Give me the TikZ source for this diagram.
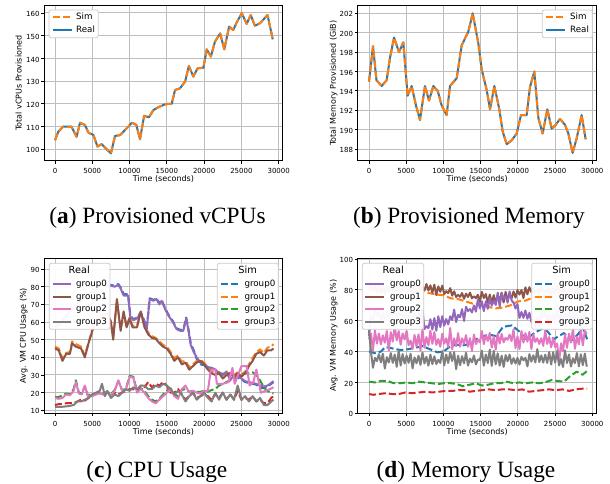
\documentclass[tikz,border=0pt]{standalone}
\usepackage{fontspec}
\setmainfont{DejaVu Sans}
\newfontfamily\capfont{Liberation Serif}
\definecolor{cblue}{HTML}{1F77B4}
\definecolor{corange}{HTML}{FF7F0E}
\definecolor{cgreen}{HTML}{2CA02C}
\definecolor{cred}{HTML}{D62728}
\definecolor{cpurple}{HTML}{9467BD}
\definecolor{cbrown}{HTML}{8C564B}
\definecolor{cpink}{HTML}{E377C2}
\definecolor{cgray}{HTML}{7F7F7F}
\definecolor{gridgray}{HTML}{BDBDBD}
\definecolor{legedge}{HTML}{CCCCCC}
\tikzset{
  realline/.style={line width=2pt, line join=round},
  simline/.style={line width=2pt, dash pattern=on 7pt off 3pt, line join=round},
  gridline/.style={gridgray, line width=1pt},
  spine/.style={black, line width=0.8pt},
  tickmark/.style={black, line width=0.8pt},
  ticklabel/.style={font=\fontsize{7}{8}\selectfont, inner sep=0pt, text height=0.73em, text depth=0pt},
  axislabel/.style={font=\fontsize{8}{9.6}\selectfont, inner sep=0pt, text height=0.76em, text depth=0.24em},
  legendbox/.style={draw=legedge, line width=0.8pt, fill=white, fill opacity=0.95, rounded corners=2pt},
  legendtext/.style={font=\fontsize{8.7}{10}\selectfont, inner sep=0pt, anchor=west, text height=0.73em, text depth=0.24em},
  legendtitle/.style={font=\fontsize{9.8}{11}\selectfont, inner sep=0pt, text height=0.73em, text depth=0.24em},
  subcaption/.style={font=\capfont\fontsize{23.3}{28}\selectfont, inner sep=0pt, anchor=base},
}
\begin{document}
\begin{tikzpicture}[x=1pt,y=1pt,
  declare function={
    bpink(\t)=48-4*max(0,1-abs(\t-13.8)/1.5)-9*max(0,1-abs(\t-25.4)/1.0)+6*max(0,1-abs(\t-29.3)/1.2);
    bpurple(\t)=(\t<7.2) ? 64 : ((\t<18.8) ? 55+(\t-7.2)*1.85 : ((\t<20.6) ? 76.5-(\t-18.8)*8.5 : 62));
    bbrown(\t)=(\t<8) ? 80.5 : ((\t<14) ? 81-(\t-8) : ((\t<18) ? 74.5 : min(79.5,74.5+(\t-18)*1.6)));
    wig(\k)=(2*mod(\k,2)-1)*(0.25+0.6*rnd)+0.45*rand;
  }]
\useasboundingbox (0,0) rectangle (610,483);
\fill[white] (0,0) rectangle (610,483);

% ---------------- (a) total vCPUs ----------------
\begin{scope}[shift={(55pt,106.5pt)},x=7.457pt,y=2.272pt]
  \foreach \t in {0,5,...,30} \draw[gridline] (\t,95) -- (\t,163.2);
  \foreach \v in {100,110,...,160} \draw[gridline] (-1.435,\v) -- (30.535,\v);
  \draw[realline,cblue] plot coordinates {(0,104) (0.45,107.8) (1.1,110) (2.2,110) (2.9,105.5) (3.35,111.7) (4,110.7) (4.5,107.3) (5.15,106.3) (5.7,101.2) (6.25,102.3) (6.9,100.1) (7.5,98.2) (8.05,105.9) (8.7,106.2) (9.4,108.5) (9.85,110) (10.3,111.7) (10.9,110.8) (11.4,104.4) (11.95,114.7) (12.6,114.1) (13.2,117.3) (13.85,118.5) (14.75,119.8) (15.2,120) (15.65,120) (16.1,126.1) (16.75,126.8) (17.45,129.8) (17.95,136.7) (18.55,132) (19.1,135.6) (19.9,135.9) (20.35,144) (20.9,140.8) (21.45,147.4) (22.15,151) (22.7,144) (23.35,154) (23.9,152.5) (24.35,155.7) (25.05,159.9) (25.7,155.2) (26.25,159.1) (26.8,154.4) (27.5,155.5) (28.5,159.1) (29.2,148.4)};
  \draw[simline,corange] plot coordinates {(0,104) (0.45,107.8) (1.1,110) (2.2,110) (2.9,105.5) (3.35,111.7) (4,110.7) (4.5,107.3) (5.15,106.3) (5.7,101.2) (6.25,102.3) (6.9,100.1) (7.5,98.2) (8.05,105.9) (8.7,106.2) (9.4,108.5) (9.85,110) (10.3,111.7) (10.9,110.8) (11.4,104.4) (11.95,114.7) (12.6,114.1) (13.2,117.3) (13.85,118.5) (14.75,119.8) (15.2,120) (15.65,120) (16.1,126.1) (16.75,126.8) (17.45,129.8) (17.95,136.7) (18.55,132) (19.1,135.6) (19.9,135.9) (20.35,144) (20.9,140.8) (21.45,147.4) (22.15,151) (22.7,144) (23.35,154) (23.9,152.5) (24.35,155.7) (25.05,159.9) (25.7,155.2) (26.25,159.1) (26.8,154.4) (27.5,155.5) (28.5,159.1) (29.2,148.4)};
  \draw[spine] (-1.435,95) rectangle (30.535,163.2);
  \foreach \t/\l in {0/0,5/5000,10/10000,15/15000,20/20000,25/25000,30/30000} {
    \draw[tickmark] (\t,95) -- ++(0,-3pt);
    \node[ticklabel,anchor=north,yshift=-5.5pt] (ax\t) at (\t,95) {\l};}
  \foreach \v in {100,110,...,160} {
    \draw[tickmark] (-1.435,\v) -- ++(-3pt,0);
    \node[ticklabel,anchor=east,xshift=-4.5pt] (ay\v) at (-1.435,\v) {\v};}
\end{scope}
\node[axislabel] (axlab) at (163.5,304) {Time (seconds)};
\node[axislabel,rotate=90] (aylab) at (19,399.8) {Total vCPUs Provisioned};
\draw[legendbox] (49,445.3) rectangle (98.3,473);
\draw[simline,corange] (52.7,466.3) -- (71.7,466.3);
\node[legendtext] (asim) at (76,466.3) {Sim};
\draw[realline,cblue] (52.7,453) -- (71.7,453);
\node[legendtext] (areal) at (76,453) {Real};
\node[subcaption] (acap) at (157.5,259.2) {(\textbf{a}) Provisioned vCPUs};

% ---------------- (b) total memory ----------------
\begin{scope}[shift={(369pt,-1488.3pt)},x=7.443pt,y=9.693pt]
  \foreach \t in {0,5,...,30} \draw[gridline] (\t,186.8) -- (\t,202.8);
  \foreach \v in {188,190,...,202} \draw[gridline] (-1.518,\v) -- (30.59,\v);
  \draw[realline,cblue] plot coordinates {(0,194.95) (0.54,198.6) (1,195.1) (1.7,194.5) (2.37,195.1) (2.82,197.4) (3.36,199.5) (4.03,198) (4.61,199) (5.19,193.5) (5.73,194.5) (6.31,192.5) (6.85,191) (7.52,194.5) (8.06,193) (8.64,194.5) (9.23,194) (9.76,192.5) (10.43,191.5) (10.88,194.5) (11.78,195.3) (12.45,198.7) (13.34,200.1) (13.93,202) (14.69,198.9) (15.14,196.2) (15.81,194.1) (16.26,192.1) (16.84,194.5) (17.51,192.1) (17.96,189.8) (18.5,188.5) (19.17,188.9) (19.84,189.6) (20.42,191.5) (21.18,191.5) (21.63,194.4) (22.21,196) (22.75,191.2) (23.33,189.6) (23.96,192.1) (24.54,190.1) (25.08,190.5) (25.66,191.1) (26.33,190.5) (26.78,189.6) (27.36,187.6) (27.9,189.1) (28.57,191.5) (29.11,189)};
  \draw[simline,corange] plot coordinates {(0,194.95) (0.54,198.6) (1,195.1) (1.7,194.5) (2.37,195.1) (2.82,197.4) (3.36,199.5) (4.03,198) (4.61,199) (5.19,193.5) (5.73,194.5) (6.31,192.5) (6.85,191) (7.52,194.5) (8.06,193) (8.64,194.5) (9.23,194) (9.76,192.5) (10.43,191.5) (10.88,194.5) (11.78,195.3) (12.45,198.7) (13.34,200.1) (13.93,202) (14.69,198.9) (15.14,196.2) (15.81,194.1) (16.26,192.1) (16.84,194.5) (17.51,192.1) (17.96,189.8) (18.5,188.5) (19.17,188.9) (19.84,189.6) (20.42,191.5) (21.18,191.5) (21.63,194.4) (22.21,196) (22.75,191.2) (23.33,189.6) (23.96,192.1) (24.54,190.1) (25.08,190.5) (25.66,191.1) (26.33,190.5) (26.78,189.6) (27.36,187.6) (27.9,189.1) (28.57,191.5) (29.11,189)};
  \draw[spine] (-1.518,186.8) rectangle (30.59,202.8);
  \foreach \t/\l in {0/0,5/5000,10/10000,15/15000,20/20000,25/25000,30/30000} {
    \draw[tickmark] (\t,186.8) -- ++(0,-3pt);
    \node[ticklabel,anchor=north,yshift=-5.5pt] (bx\t) at (\t,186.8) {\l};}
  \foreach \v in {188,190,...,202} {
    \draw[tickmark] (-1.518,\v) -- ++(-3pt,0);
    \node[ticklabel,anchor=east,xshift=-4.5pt] (by\v) at (-1.518,\v) {\v};}
\end{scope}
\node[axislabel] (bxlab) at (477.2,304) {Time (seconds)};
\node[axislabel,rotate=90] (bylab) at (333.3,399.8) {Total Memory Provisioned (GiB)};
\draw[legendbox] (542.3,445.3) rectangle (592.3,473);
\draw[simline,corange] (545.7,466.3) -- (565,466.3);
\node[legendtext] (bsim) at (570,466.3) {Sim};
\draw[realline,cblue] (545.7,453) -- (565,453);
\node[legendtext] (breal) at (570,453) {Real};
\node[subcaption] (bcap) at (469,259.2) {(\textbf{b}) Provisioned Memory};

% ---------------- (c) CPU usage ----------------
\begin{scope}[shift={(55pt,55.04pt)},x=7.457pt,y=1.766pt]
  \foreach \t in {0,5,...,30} \draw[gridline] (\t,8.3) -- (\t,96.07);
  \foreach \v in {10,20,...,90} \draw[gridline] (-1.435,\v) -- (30.535,\v);
  % simulated groups
  \draw[simline,cblue] plot coordinates {(0,57) (0.5,58.5) (1,61.5) (1.5,63.5) (2,66.5) (2.5,68.5) (3,70.5) (3.5,72.5) (4,74.5) (4.5,75.5) (5,77.5) (5.5,78.5) (6,80.5) (6.5,81.5) (7,80.5) (7.5,81) (8,80.5) (8.5,81.5) (8.8,79.5) (9.2,76) (9.8,75.5) (10.1,64) (10.5,61.5) (11,62.5) (11.5,65.5) (12,60.5) (12.3,56.5) (12.7,73.5) (13.2,72.5) (13.6,73.5) (14,70.5) (14.3,72.5) (14.8,67.5) (15.3,63.5) (15.8,60.5) (16.3,56.5) (16.8,55.5) (17.2,55.5) (17.6,62.5) (17.9,56) (18.2,48) (18.6,44) (19,39) (19.5,36) (20,35.5) (20.5,34) (21,34) (21.5,33) (22,31.5) (22.5,30.5) (23,31.5) (23.5,28) (24,29.5) (24.5,28.5) (25,27.5) (25.5,26) (26,25.5) (26.5,25) (27,24.5) (27.5,22.5) (28,22.5) (28.5,23.5) (29,25) (29.3,26)};
  \draw[simline,corange] plot coordinates {(0,46) (0.5,45) (1,39.5) (1.5,42.5) (2,43) (2.3,49) (2.8,47.5) (3.5,46) (4,41) (4.5,48.5) (5,55.5) (5.5,60.5) (6,62.5) (6.5,64.5) (7,65) (7.5,60.5) (7.8,51) (8.3,72.5) (8.8,56) (9.2,65) (9.6,58) (10,62.5) (10.4,58) (11,58) (11.5,65.5) (12,58) (12.5,54) (13,52) (13.5,51) (14,49) (14.5,47) (15,46) (15.5,43) (16,39.5) (16.5,41) (17,37.5) (17.5,38) (18,34.5) (18.5,36) (19,38) (19.5,38.5) (20,37) (20.5,34) (21,32) (21.5,31) (22,31.5) (22.5,29) (23,30.5) (23.5,31.5) (24,30) (24.5,31.5) (25,30) (25.5,32) (26,36) (26.5,39.5) (27,43) (27.5,44.5) (28,42.5) (28.5,45.5) (29,46) (29.3,47.5)};
  \draw[simline,cgreen] plot coordinates {(0,17.5) (0.5,17.5) (1,18.5) (1.5,19.5) (2,19) (2.5,22) (2.8,27) (3.2,20) (3.6,19.5) (4,23.5) (4.4,18.5) (5,19) (5.5,19.5) (6,20) (6.5,19.5) (7,20.5) (7.5,19) (8,21.5) (8.5,26.5) (9,21.5) (9.5,22) (10,29.5) (10.5,29) (11,21) (11.5,22.5) (12,21) (12.5,18) (13,16) (13.5,15) (14,16.5) (14.5,19) (15,21) (15.5,22.5) (16,19) (16.5,18) (17,21.5) (17.5,22) (18,20.5) (18.5,21) (19,20.5) (19.5,20.5) (20,21) (20.5,20.5) (21,21.5) (21.5,22) (22,24) (22.5,25) (23,26) (23.5,27) (24,28) (24.5,29) (25,30) (25.5,31) (26,31) (26.5,31.5) (27,30) (27.5,27) (28,23) (28.5,21) (29,20) (29.3,19.5)};
  \draw[simline,cred] plot coordinates {(0,13) (0.5,13.5) (1,13.5) (1.5,14) (2,14) (2.5,14) (3,15) (3.5,16) (4,15.5) (4.5,17) (5,19) (5.5,19.5) (6,20) (6.5,19) (7,20) (7.5,18.5) (8,20) (8.5,19) (9,20) (9.5,21) (10,22) (10.5,22) (11,21) (11.5,24) (12,23) (12.5,26) (13,23) (13.5,25) (14,24) (14.5,26) (15,24) (15.5,20) (16,20) (16.5,22) (17,19) (17.5,16) (18,18) (18.5,20) (19,17) (19.5,18) (20,19) (20.5,18) (21,16) (21.5,19) (22,17) (22.5,20) (23,16) (23.5,19) (24,16) (24.5,21) (25,16) (25.5,17) (26,16) (26.5,18) (27,15) (27.5,16) (28,14) (28.5,14) (29,17) (29.3,18)};
  % measured groups
  \draw[realline,cpurple] plot coordinates {(0,56.5) (0.5,58) (1,61) (1.5,63) (2,66) (2.5,68) (3,70) (3.5,72) (4,74) (4.5,75) (5,77) (5.5,78) (6,80) (6.5,81) (7,80) (7.5,80.5) (8,80) (8.5,81) (8.8,79) (9.2,75) (9.8,75) (10.1,63) (10.5,61) (11,62) (11.5,65) (12,60) (12.3,56) (12.7,73) (13.2,72) (13.6,73) (14,70) (14.3,72) (14.8,67) (15.3,63) (15.8,60) (16.3,56) (16.8,55) (17.2,55) (17.6,62) (17.9,55) (18.2,47) (18.6,43) (19,40) (19.5,37) (20,36) (20.5,34.5) (21,34) (21.5,33) (22,31) (22.5,30) (23,32) (23.5,27) (24,30) (24.5,29) (25,28) (25.5,26.5) (26,26) (26.5,25.5) (27,25) (27.5,24) (28,23.5) (28.5,24) (29,25.5) (29.3,26.5)};
  \draw[realline,cbrown] plot coordinates {(0,45) (0.5,44) (1,38) (1.5,42) (2,42) (2.3,48) (2.8,46) (3.5,45) (4,40) (4.5,48) (5,55) (5.5,60) (6,62) (6.5,64) (7,65) (7.5,60) (7.8,50) (8.3,73) (8.8,55) (9.2,66) (9.6,57) (10,62) (10.4,57) (11,57) (11.5,66) (12,57) (12.5,53) (13,51) (13.5,50.5) (14,48) (14.5,46) (15,45) (15.5,42) (16,38) (16.5,40) (17,36) (17.5,37) (18,33) (18.5,35) (19,37) (19.5,38) (20,36) (20.5,33) (21,31) (21.5,30) (22,31) (22.5,28) (23,30) (23.5,31) (24,29) (24.5,31) (25,29) (25.5,31) (26,35) (26.5,38) (27,42) (27.5,43) (28,41) (28.5,44) (29,44) (29.3,45)};
  \draw[realline,cpink] plot coordinates {(0,17) (0.5,16.5) (1,17) (1.5,19) (2,18.5) (2.5,21) (2.8,26) (3.2,19.5) (3.6,19) (4,24) (4.4,18) (5,18) (5.5,19) (6,19.5) (6.5,19) (7,20) (7.5,18.5) (8,21) (8.5,27) (9,21) (9.5,21.5) (10,29) (10.5,28.5) (11,20) (11.5,22) (12,20) (12.5,17) (13,15) (13.5,14) (14,16) (14.5,18) (15,20) (15.5,22) (16,18) (16.5,16.5) (17,22) (17.5,24) (18,20) (18.5,21) (19,20) (19.5,19.5) (20,21) (20.5,21) (20.9,33) (21.5,33) (21.7,25) (22.5,25) (23.3,26) (23.8,34) (24.1,25) (25,35) (25.7,35) (26.1,24) (26.6,26) (27,33) (27.6,20) (28.2,21) (28.8,22) (29.3,23)};
  \draw[realline,cgray] plot coordinates {(0,12) (1,12) (2,12.5) (2.5,13) (3,15) (3.5,15) (4,16) (4.5,17) (5,19) (5.5,20) (6,21) (6.3,25) (6.7,18) (7,21) (7.5,17) (8,19) (8.5,18) (9,20) (9.5,22) (10,21) (10.5,23) (11,22) (11.5,24) (12,24) (12.5,22) (13,22) (13.5,24) (14,23) (14.5,25) (15,24) (15.5,22) (16,19) (16.5,21) (17,19) (17.5,15) (18,18) (18.5,20) (19,16) (19.5,18) (20,20) (20.5,17) (21,15) (21.5,20) (22,16) (22.5,20) (23,16) (23.5,19) (24,16) (24.5,24) (25,16) (25.5,18) (26,15) (26.5,18) (27,15) (27.5,17) (28,13) (28.5,13) (29,15) (29.3,16)};
  \draw[spine] (-1.435,8.3) rectangle (30.535,96.07);
  \foreach \t/\l in {0/0,5/5000,10/10000,15/15000,20/20000,25/25000,30/30000} {
    \draw[tickmark] (\t,8.3) -- ++(0,-3pt);
    \node[ticklabel,anchor=north,yshift=-5.5pt] (cx\t) at (\t,8.3) {\l};}
  \foreach \v in {10,20,...,90} {
    \draw[tickmark] (-1.435,\v) -- ++(-3pt,0);
    \node[ticklabel,anchor=east,xshift=-4.5pt] (cy\v) at (-1.435,\v) {\v};}
\end{scope}
\node[axislabel] (cxlab) at (163.5,51.3) {Time (seconds)};
\node[axislabel,rotate=90] (cylab) at (23.3,147.2) {Avg. VM CPU Usage (\%)};
\draw[legendbox] (49.3,153.7) rectangle (110,219.7);
\node[legendtitle] (crtitle) at (79.3,212.3) {Real};
\foreach \c/\n/\y in {cpurple/group0/199,cbrown/group1/186.3,cpink/group2/173.7,cgray/group3/161} {
  \draw[realline,\c] (52.7,\y) -- (70.7,\y);
  \node[legendtext] (cr\n) at (76,\y) {\n};}
\draw[legendbox] (217.3,153.7) rectangle (278.3,219.7);
\node[legendtitle] (cstitle) at (247.7,212.3) {Sim};
\foreach \c/\n/\y in {cblue/group0/199,corange/group1/186.3,cgreen/group2/173.7,cred/group3/161} {
  \draw[simline,\c] (220.7,\y) -- (238.3,\y);
  \node[legendtext] (cs\n) at (244.3,\y) {\n};}
\node[subcaption] (ccap) at (156.8,5.5) {(\textbf{c}) CPU Usage};

% ---------------- (d) memory usage ----------------
\begin{scope}[shift={(369pt,69.7pt)},x=7.443pt,y=1.543pt]
  \foreach \t in {0,5,...,30} \draw[gridline] (\t,0) -- (\t,100.45);
  \foreach \v in {0,20,...,100} \draw[gridline] (-1.518,\v) -- (30.59,\v);
  % simulated groups
  \draw[simline,cblue] plot coordinates {(0,40) (0.8,39) (1.6,40) (2.2,43) (3.2,42) (4.2,41) (5.2,41.5) (6.2,42.5) (7.2,43.5) (8.2,41.5) (9.2,39.5) (10,40) (10.8,43) (11.6,44.5) (12.6,44) (13.6,45) (14.4,48) (15.3,50) (16.2,51) (17.1,50) (18,56) (19.2,57) (20.2,53) (21.1,48) (22.2,52) (23.3,55) (24,53) (24.8,48) (25.5,50) (26.2,52) (26.8,49) (27.4,47.5) (28.2,52) (28.7,56) (29.3,48)};
  \draw[simline,corange] plot coordinates {(0,81) (2,81) (4,80.5) (6,80) (7,81) (8,78) (9,77) (10,76.5) (11,74.5) (12,74) (13,72.5) (14,71) (15,70.5) (16,69) (17,68) (18,68.5) (19,70) (20,72.5) (21,73) (22,75) (23,76) (25,78) (27,78) (29.3,78)};
  \draw[simline,cgreen] plot coordinates {(0,20.5) (0.8,20) (1.6,21) (2.5,21) (3.3,19.5) (4.2,19.5) (5,20) (5.9,19.5) (6.7,20.5) (7.6,20) (8.4,19.5) (9.3,19) (10.1,19.5) (11,19.5) (11.8,19) (12.6,17.5) (13.5,18.5) (14.3,19.5) (15.2,18) (16,18.5) (16.8,19.5) (17.7,19.5) (18.5,20.5) (19.4,19.5) (20.2,20) (21.1,19.5) (21.9,20) (22.8,19.5) (23.6,20) (24.5,21.5) (25.3,21) (26.2,20.5) (27,24) (27.9,27) (28.7,25) (29.3,27.5)};
  \draw[simline,cred] plot coordinates {(0,12.5) (0.6,12) (1.3,12.5) (2.2,13) (3.1,12.5) (4,12.5) (4.9,13.5) (5.8,13) (6.7,13.5) (7.6,14) (8.5,13.5) (9.4,14) (10.3,14.5) (11.2,14.5) (12.1,15) (13,15) (13.5,14) (14.3,14.5) (15.2,15) (16.1,15.5) (17,15) (17.9,15.5) (18.8,15.5) (19.7,15) (20.6,15.5) (21.5,14) (22.4,14.5) (23.3,15) (24.2,15.5) (25.1,15) (26,15.5) (26.9,14.5) (27.8,15.5) (28.7,16) (29.3,16)};
  % measured groups: trend plus sample-to-sample fluctuation
  \pgfmathsetseed{21}
  \draw[realline,cbrown] (0,{bbrown(0)}) \foreach \k in {1,...,110} { -- ({0.266*\k},{bbrown(0.266*\k)+3.5*wig(\k)}) };
  \pgfmathsetseed{5}
  \draw[realline,cpurple] (0,50) \foreach \k in {1,...,110} { -- ({0.266*\k},{bpurple(0.266*\k)+5*wig(\k)}) };
  \pgfmathsetseed{13}
  \draw[realline,cpink] (0,{bpink(0)}) \foreach \k in {1,...,110} { -- ({0.266*\k},{bpink(0.266*\k)+6.5*wig(\k)}) };
  \pgfmathsetseed{8}
  \draw[realline,cgray] (0,54) \foreach \k in {1,...,110} { -- ({0.266*\k},{35+5.5*wig(\k)}) };
  \draw[spine] (-1.518,0) rectangle (30.59,100.45);
  \foreach \t/\l in {0/0,5/5000,10/10000,15/15000,20/20000,25/25000,30/30000} {
    \draw[tickmark] (\t,0) -- ++(0,-3pt);
    \node[ticklabel,anchor=north,yshift=-5.5pt] (dx\t) at (\t,0) {\l};}
  \foreach \v in {0,20,...,100} {
    \draw[tickmark] (-1.518,\v) -- ++(-3pt,0);
    \node[ticklabel,anchor=east,xshift=-4.5pt] (dy\v) at (-1.518,\v) {\v};}
\end{scope}
\node[axislabel] (dxlab) at (477.2,51.3) {Time (seconds)};
\node[axislabel,rotate=90] (dylab) at (333.3,147.2) {Avg. VM Memory Usage (\%)};
\draw[legendbox] (362.3,153.7) rectangle (423.7,219.7);
\node[legendtitle] (drtitle) at (393.3,212.3) {Real};
\foreach \c/\n/\y in {cpurple/group0/199,cbrown/group1/186.3,cpink/group2/173.7,cgray/group3/161} {
  \draw[realline,\c] (365,\y) -- (384.3,\y);
  \node[legendtext] (dr\n) at (390,\y) {\n};}
\draw[legendbox] (531.7,153.7) rectangle (592.3,219.7);
\node[legendtitle] (dstitle) at (561.7,212.3) {Sim};
\foreach \c/\n/\y in {cblue/group0/199,corange/group1/186.3,cgreen/group2/173.7,cred/group3/161} {
  \draw[simline,\c] (535,\y) -- (553.3,\y);
  \node[legendtext] (ds\n) at (559,\y) {\n};}
\node[subcaption] (dcap) at (466,5.5) {(\textbf{d}) Memory Usage};
\end{tikzpicture}
\end{document}
